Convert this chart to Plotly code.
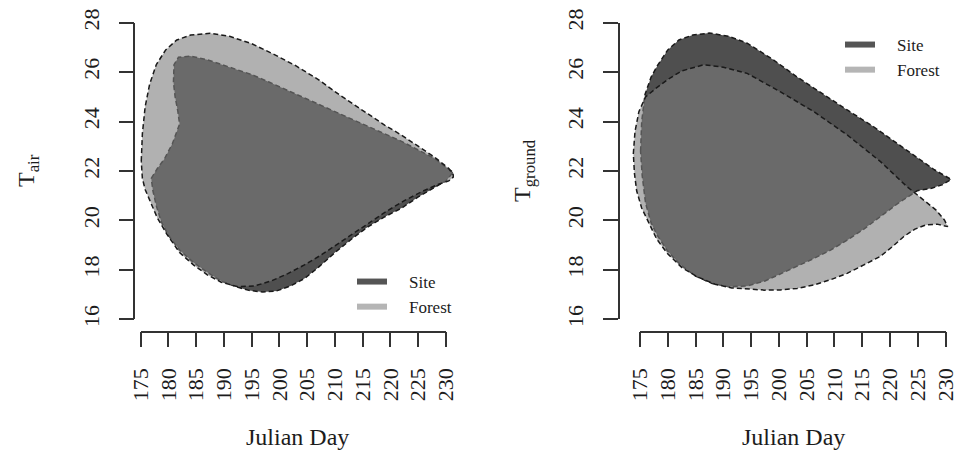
import plotly.graph_objects as go

W, H = 958, 452
FONT = "Liberation Serif"
TXT = "#1c1c1c"
AX = "#333333"

# ---------------- data ----------------
day_ticks = list(range(175, 231, 5))
temp_ticks = list(range(16, 29, 2))
x_title = "Julian Day"
y_titles = ["T<sub>air</sub>", "T<sub>ground</sub>"]
series_names = ["Site", "Forest"]

# T_air panel : Forest envelope
air_forest_upper_x = [175.1, 175.3, 175.8, 176.6, 177.8, 179.5, 181.5, 184.0, 187.5, 191.0, 195.0, 199.0,
                      203.0, 207.0, 211.0, 215.0, 219.0, 222.0, 225.0, 228.0, 230.5, 231.3]
air_forest_upper_y = [22.4, 23.5, 24.6, 25.5, 26.3, 26.9, 27.3, 27.5, 27.57, 27.45, 27.15, 26.72,
                      26.25, 25.7, 25.05, 24.45, 23.85, 23.45, 23.0, 22.55, 22.1, 21.85]
air_forest_lower_x = [175.1, 175.3, 175.8, 176.7, 178.0, 179.7, 182.0, 184.5, 187.0, 189.5, 192.5, 195.5,
                      198.5, 201.5, 204.5, 207.5, 210.5, 213.5, 216.5, 219.5, 222.5, 225.5, 228.5, 230.5, 231.3]
air_forest_lower_y = [22.4, 21.7, 21.25, 20.8, 20.1, 19.45, 18.7, 18.2, 17.8, 17.5, 17.32, 17.35,
                      17.55, 17.85, 18.2, 18.6, 19.05, 19.5, 19.95, 20.4, 20.8, 21.15, 21.45, 21.6, 21.75]

# T_air panel : Site envelope
air_site_upper_x = [176.9, 178.0, 179.3, 180.7, 182.0, 181.7, 181.2, 180.9, 181.0, 181.8, 183.9, 187.0,
                    191.0, 195.0, 198.0, 202.0, 206.0, 210.0, 214.0, 218.0, 222.0, 225.0, 228.0, 230.0, 231.3]
air_site_upper_y = [21.7, 22.1, 22.5, 23.1, 23.9, 24.4, 25.0, 25.6, 26.3, 26.6, 26.65, 26.5,
                    26.2, 25.9, 25.61, 25.2, 24.8, 24.4, 24.0, 23.6, 23.2, 22.85, 22.5, 22.15, 21.95]
air_site_lower_x = [176.9, 177.2, 177.8, 178.7, 180.0, 182.0, 184.5, 187.0, 189.5, 192.0, 194.5, 197.0,
                    199.5, 202.0, 204.5, 207.0, 210.0, 213.0, 216.0, 219.0, 222.0, 225.0, 228.0, 230.0, 231.3]
air_site_lower_y = [21.7, 21.2, 20.6, 19.95, 19.4, 18.8, 18.3, 17.9, 17.55, 17.33, 17.17, 17.1,
                    17.15, 17.35, 17.65, 18.1, 18.7, 19.25, 19.75, 20.15, 20.5, 20.95, 21.35, 21.6, 21.95]

# T_ground panel : Site envelope
gnd_site_upper_x = [175.1, 175.3, 175.9, 177.0, 178.1, 180.0, 182.0, 184.5, 187.5, 191.0, 194.3, 199.0,
                    203.3, 208.0, 212.3, 217.0, 221.3, 225.0, 228.0, 231.0]
gnd_site_upper_y = [22.8, 24.0, 25.1, 25.8, 26.25, 26.9, 27.3, 27.5, 27.58, 27.45, 27.17, 26.5,
                    25.8, 25.1, 24.47, 23.8, 23.12, 22.5, 22.05, 21.66]
gnd_site_lower_x = [175.1, 175.4, 176.0, 177.0, 178.1, 180.0, 182.3, 185.0, 188.0, 191.0, 194.3, 197.5,
                    200.3, 203.3, 206.3, 209.3, 212.3, 215.3, 218.3, 221.5, 224.9, 227.5, 229.5, 231.0]
gnd_site_lower_y = [22.8, 21.8, 20.7, 19.9, 19.4, 18.75, 18.2, 17.75, 17.45, 17.32, 17.35, 17.55,
                    17.85, 18.15, 18.46, 18.8, 19.2, 19.65, 20.15, 20.7, 21.2, 21.3, 21.45, 21.66]

# T_ground panel : Forest envelope
gnd_forest_upper_x = [173.8, 174.1, 174.8, 176.0, 177.9, 180.0, 182.5, 186.5, 190.0, 194.3, 200.3, 206.3,
                      212.3, 218.3, 223.1, 225.3, 228.3, 229.8, 230.4]
gnd_forest_upper_y = [22.7, 23.6, 24.4, 25.0, 25.35, 25.7, 26.05, 26.3, 26.2, 25.95, 25.2, 24.4,
                      23.46, 22.38, 21.36, 20.96, 20.42, 20.02, 19.75]
gnd_forest_lower_x = [173.8, 174.0, 174.4, 175.3, 176.3, 178.0, 179.9, 182.5, 185.3, 188.5, 191.5, 194.3,
                      197.5, 200.3, 203.3, 206.3, 209.3, 212.3, 215.3, 218.3, 220.5, 222.5, 224.5, 226.5,
                      228.5, 230.4]
gnd_forest_lower_y = [22.7, 21.9, 21.2, 20.5, 20.0, 19.25, 18.67, 18.1, 17.72, 17.42, 17.27, 17.22,
                      17.18, 17.19, 17.25, 17.39, 17.6, 17.86, 18.2, 18.55, 18.95, 19.35, 19.65, 19.82,
                      19.85, 19.75]

# ---------------- styles ----------------
SITE_FILL = "#4f4f4f"
FOREST_FILL = "rgba(125,125,125,0.6)"
SITE_KEY = "#555555"
FOREST_KEY = "#b5b5b5"
OUTLINE = dict(color="#1a1a1a", width=1.5, dash="5px,3px")
PAD = "\u00a0\u00a0\u00a0\u00a0"


def ring(ux, uy, lx, ly):
    return list(ux) + list(lx[::-1]), list(uy) + list(ly[::-1])


def fx(px):
    return px / W


def fy(py):
    return 1 - py / H


fig = go.Figure()

panels = [
    dict(xa="x", ya="y", xd="x3", yd="y3",
         site=(air_site_upper_x, air_site_upper_y, air_site_lower_x, air_site_lower_y),
         forest=(air_forest_upper_x, air_forest_upper_y, air_forest_lower_x, air_forest_lower_y),
         legend="legend"),
    dict(xa="x2", ya="y2", xd="x4", yd="y4",
         site=(gnd_site_upper_x, gnd_site_upper_y, gnd_site_lower_x, gnd_site_lower_y),
         forest=(gnd_forest_upper_x, gnd_forest_upper_y, gnd_forest_lower_x, gnd_forest_lower_y),
         legend="legend2"),
]

for p in panels:
    sx, sy = ring(*p["site"])
    fig.add_trace(go.Scatter(x=sx, y=sy, xaxis=p["xa"], yaxis=p["ya"], mode="lines", fill="toself",
                             fillcolor=SITE_FILL, line=OUTLINE, showlegend=False, hoverinfo="skip"))
    fx_, fy_ = ring(*p["forest"])
    fig.add_trace(go.Scatter(x=fx_, y=fy_, xaxis=p["xa"], yaxis=p["ya"], mode="lines", fill="toself",
                             fillcolor=FOREST_FILL, line=OUTLINE, showlegend=False, hoverinfo="skip"))
    for name, col in zip(series_names, [SITE_KEY, FOREST_KEY]):
        fig.add_trace(go.Scatter(x=[None], y=[None], xaxis=p["xa"], yaxis=p["ya"], mode="lines",
                                 line=dict(color=col, width=6), name=PAD + name, legend=p["legend"]))
    fig.add_trace(go.Scatter(x=[None], y=[None], xaxis=p["xd"], yaxis=p["yd"], mode="lines",
                             showlegend=False, hoverinfo="skip"))

# pixel geometry (R-style detached axes)
Y16, Y28 = 319.3, 22.7
YAX_BOTTOM, Y_TOP = 331.7, 8.0
ppu_y = (Y16 - Y28) / 12.0
y_lo = 16 - (YAX_BOTTOM - Y16) / ppu_y
y_hi = 28 + (Y28 - Y_TOP) / ppu_y

SHIFT = 4  # keep the last day label of the right panel inside the page
left = dict(x175=140.7, x230=446.0, yline=134.3, right=458.0)
right = dict(x175=644.0 - SHIFT, x230=949.5 - SHIFT, yline=623.0 - SHIFT, right=958.0)

hidden = dict(visible=False, showgrid=False, zeroline=False, fixedrange=True, automargin=False)


def data_axes(g):
    ppu = (g["x230"] - g["x175"]) / 55.0
    lo = 175 - (g["x175"] - g["yline"]) / ppu
    hi = 230 + (g["right"] - g["x230"]) / ppu
    return [lo, hi], [fx(g["yline"]), fx(g["right"])]


tickfont = dict(family=FONT, size=22, color=TXT)
common = dict(showline=True, linecolor=AX, linewidth=1.5, ticks="outside", ticklen=15, tickwidth=1.5,
              tickcolor=AX, showgrid=False, zeroline=False, tickfont=tickfont, tickangle=-90,
              fixedrange=True, automargin=False, ticklabeloverflow="allow")

rL, dL = data_axes(left)
rR, dR = data_axes(right)


def label(text, px, py, angle=0):
    return dict(text=text, x=fx(px), y=fy(py), xref="paper", yref="paper", showarrow=False,
                xanchor="center", yanchor="middle", textangle=angle,
                font=dict(family=FONT, size=24, color=TXT))


fig.update_layout(
    width=W, height=H, margin=dict(l=0, r=0, t=0, b=0, autoexpand=False), autosize=False,
    paper_bgcolor="white", plot_bgcolor="rgba(0,0,0,0)",
    xaxis=dict(range=rL, domain=dL, anchor="y", **hidden),
    yaxis=dict(range=[y_lo, y_hi], domain=[fy(YAX_BOTTOM), fy(Y_TOP)], anchor="x", **hidden),
    xaxis2=dict(range=rR, domain=dR, anchor="y2", **hidden),
    yaxis2=dict(range=[y_lo, y_hi], domain=[fy(YAX_BOTTOM), fy(Y_TOP)], anchor="x2", **hidden),
    xaxis3=dict(range=[175, 230], domain=[fx(left["x175"]), fx(left["x230"])], anchor="free",
                position=fy(YAX_BOTTOM), tickvals=day_ticks, ticklabelstandoff=12, **common),
    yaxis3=dict(range=[16, 28], domain=[fy(Y16), fy(Y28)], anchor="free",
                position=fx(left["yline"]), tickvals=temp_ticks, ticklabelstandoff=11, **common),
    xaxis4=dict(range=[175, 230], domain=[fx(right["x175"]), fx(right["x230"])], anchor="free",
                position=fy(YAX_BOTTOM), tickvals=day_ticks, ticklabelstandoff=12, **common),
    yaxis4=dict(range=[16, 28], domain=[fy(Y16), fy(Y28)], anchor="free",
                position=fx(right["yline"]), tickvals=temp_ticks, ticklabelstandoff=11, **common),
    legend=dict(x=fx(352), y=fy(264), xanchor="left", yanchor="top", bgcolor="rgba(0,0,0,0)",
                font=dict(family=FONT, size=17, color=TXT), tracegroupgap=0),
    legend2=dict(x=fx(844 - SHIFT), y=fy(27), xanchor="left", yanchor="top", bgcolor="rgba(0,0,0,0)",
                 font=dict(family=FONT, size=17, color=TXT), tracegroupgap=0),
    annotations=[
        label(x_title, 297, 437),
        label(x_title, 797 - SHIFT, 437),
        label(y_titles[0], 28, 171, -90),
        label(y_titles[1], 528 - SHIFT, 171, -90),
    ],
)

fig.write_html("out.html")
